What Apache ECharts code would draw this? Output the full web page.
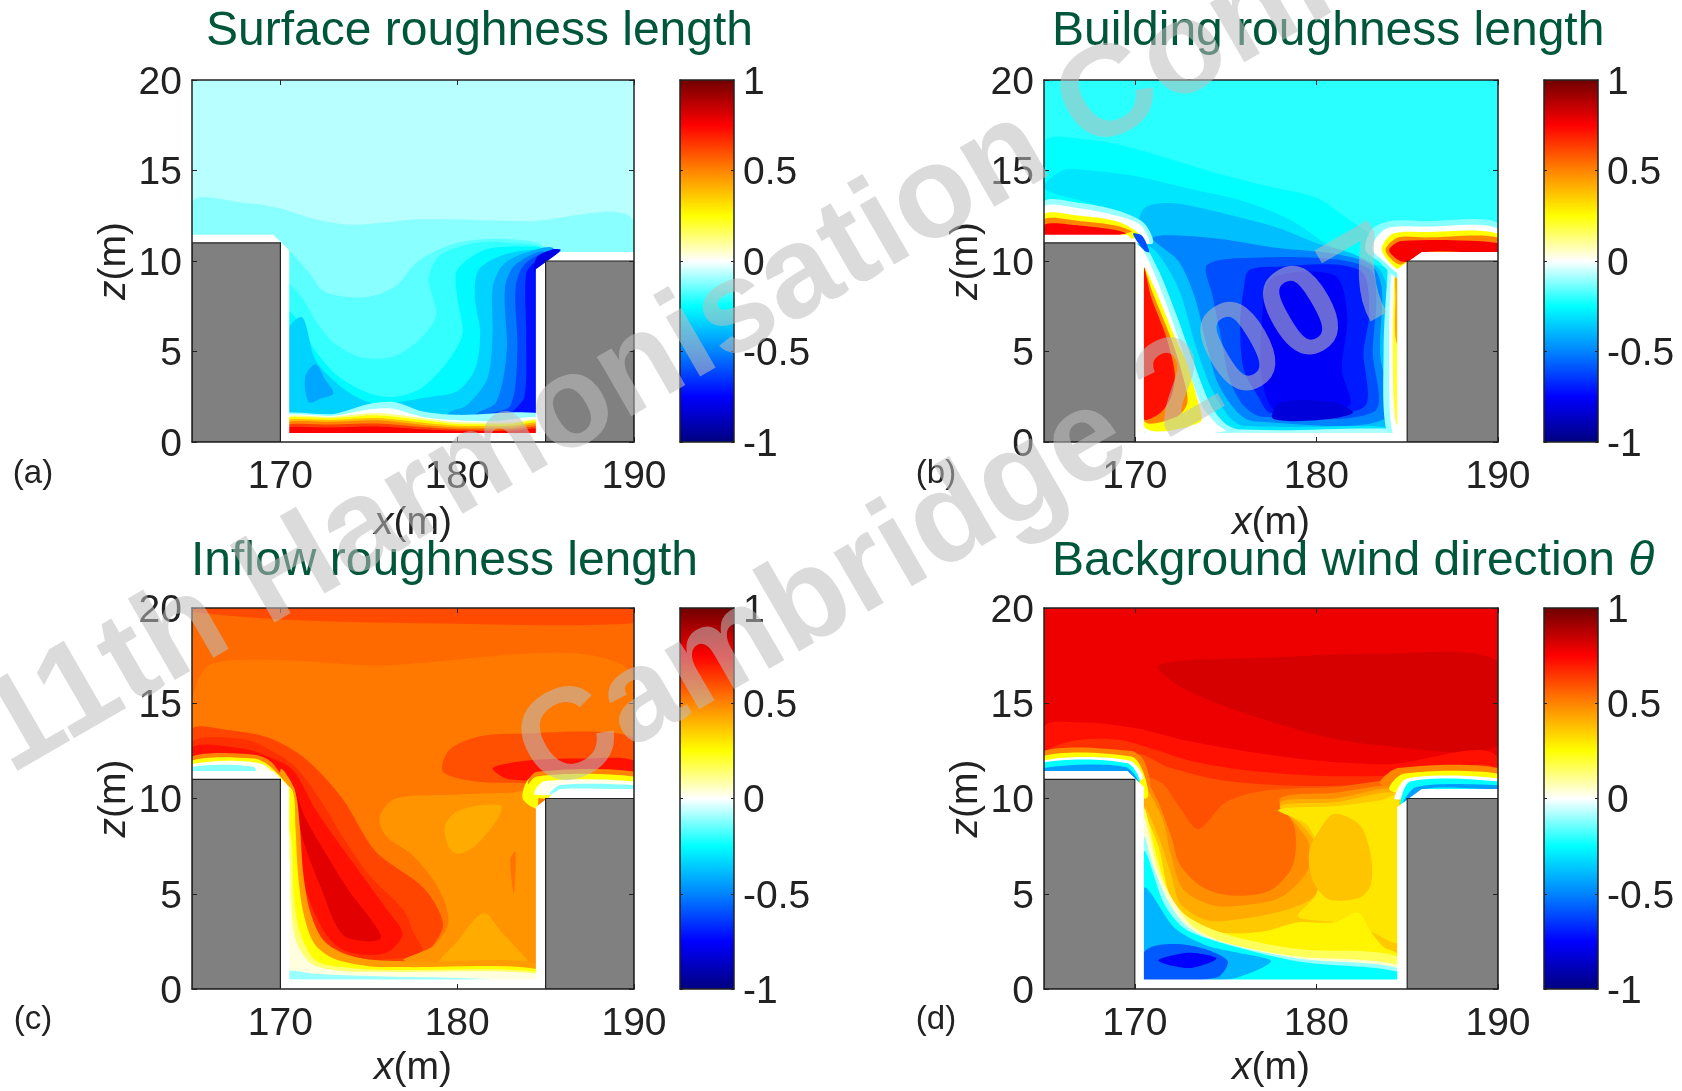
<!DOCTYPE html>
<html><head><meta charset="utf-8">
<style>html,body{margin:0;padding:0;background:#fff}#c{width:1682px;height:1091px}</style>
<script src="https://cdn.jsdelivr.net/npm/echarts@6/dist/echarts.min.js"></script>
</head><body><div id="c"></div>
<script>
const panelTitles=['Surface roughness length','Building roughness length','Inflow roughness length','Background wind direction '];
const panelTags=['(a)','(b)','(c)','(d)'];
const xTicks=[170,180,190];
const zTicks=[0,5,10,15,20];
const colormap=['#000080','#0000ff','#0084ff','#00ffff','#ffffff','#ffff00','#ff8400','#ff0000','#700000'];
const watermark=['11th Harmonisation Conference','Cambridge 2007'];
const domainMask=[[165,11.45],[169.6,11.45],[170.5,10.6],[170.5,0.5],[184.45,0.5],[184.45,9.55],[185.8,10.5],[190,10.5],[190,0],[165,0]];
const leftBuilding=[[165,0],[170,0],[170,11],[165,11]];
const rightBuilding=[[185,0],[190,0],[190,10],[185,10]];

const bandsA=[
[-0.07,[[165,0],[165,20],[190,20],[190,0]]],
[-0.115,[[165,0],[165,13.2],[168,13.2],[170,12.9],[172,12.3],[174,12],[178,12.3],[184,12.2],[190,12.2],[190,0]]],
[-0.16,[[170,10.8],[171.5,9.5],[172.5,8.3],[174.8,8],[176.5,8.6],[177.8,10],[180,11],[183,11.2],[185,10.6],[185,0],[170,0]]],
[-0.2,[[170,9],[171.2,8],[172,6.7],[173,5.5],[174.5,4.7],[176.3,4.7],[177.8,5.6],[178.8,7],[178.4,9],[179,10.3],[181,11],[183,11],[185,10.5],[185,0],[170,0]]],
[-0.26,[[170,7.5],[171,6.7],[172,5],[173.3,3.6],[175,2.7],[176.5,2.5],[178,3],[179.5,4.5],[180.3,6],[180,8],[180,9.5],[181.5,10.6],[183.5,10.8],[185,10.5],[185,0],[170,0]]],
[-0.34,[[170,5.5],[171.2,6.9],[172,4.5],[173.5,3],[175,2.2],[176.5,2.2],[178.5,2.5],[180,2.8],[181,4],[181.3,6],[181,8],[181.2,9.5],[182.5,10.3],[184,10.6],[185,10.4],[185,0],[170,0]]],
[-0.43,[[171.6,2.2],[172.3,2.4],[173,2.7],[172.5,3.5],[172,4.3],[171.4,3.6]]],
[-0.42,[[178.5,0],[179.5,1.6],[180.5,2],[181.7,3.5],[182,6],[182,8.5],[182.6,9.8],[184,10.5],[185.5,10.6],[185.5,0]]],
[-0.52,[[180,0],[181,1.5],[182.2,2.2],[182.8,5],[182.7,8.5],[183.3,9.8],[185,10.4],[185,0]]],
[-0.62,[[181.5,1.5],[183,2],[183.4,5],[183.3,8.5],[183.8,9.8],[185,10.3],[185,1.5]]],
[-0.72,[[183,1.4],[183.8,2.5],[183.9,6],[183.9,9.3],[184.5,10],[185,10],[185,1.4]]],
[-0.8,[[184.4,9.4],[185.85,10.6],[185.4,10.65],[184.5,10.2]]],
[-0.1,[[170,0],[170,1.5],[173,1.55],[175,2.1],[176.5,2.2],[178,1.7],[180,1.5],[185,1.5],[185,0]]],
[0,[[170,0],[170,1.4],[173,1.45],[175,1.8],[176.3,1.85],[178,1.4],[180,1.2],[182,1.15],[185,1.3],[185,0]]],
[0.12,[[170,0],[170,1.33],[173,1.4],[175.5,1.6],[178,1.33],[180,1.1],[183,1.08],[185,1.22],[185,0]]],
[0.25,[[170,0],[170,1.25],[173,1.32],[175.5,1.47],[178,1.22],[180,1],[183,1],[185,1.15],[185,0]]],
[0.38,[[170,0],[170,1.14],[173,1.22],[175.5,1.33],[178,1.08],[180,0.9],[183,0.9],[185,1.05],[185,0]]],
[0.5,[[170,0],[170,1.03],[173,1.12],[175.5,1.2],[178,0.95],[180,0.8],[183,0.8],[185,0.95],[185,0]]],
[0.63,[[170,0],[170,0.9],[173,0.97],[175.5,1.02],[178,0.83],[180,0.71],[183,0.71],[185,0.82],[185,0]]],
[0.75,[[170,0],[170,0.75],[173,0.8],[175.5,0.85],[178,0.7],[180,0.62],[183,0.62],[185,0.7],[185,0]]]
];

const bandsB=[
[-0.21,[[165,0],[165,20],[190,20],[190,0]]],
[-0.25,[[165,0],[165,16.5],[167.5,16.7],[170,16.2],[174,15],[177,14.2],[180,13.5],[181.5,12.5],[183,11.5],[184,11],[190,11],[190,0]]],
[-0.3,[[165,14],[166,15],[167.5,15],[170,14.7],[173,14],[176,13.3],[178.5,12.3],[180.5,11],[182.5,10],[185,9],[185,0],[170,0],[170,11.5],[168,13]]],
[-0.38,[[170.2,11.3],[170.5,12.9],[172,13.2],[175,12.6],[178,11.8],[180,11],[182,10.4],[183.5,9.5],[184,8],[184,5],[184.2,1],[183,0.9],[176,0.9],[175.2,1.4],[174.2,3],[173.3,5.5],[172.4,8.5],[171.2,10.5]]],
[-0.5,[[171,11.3],[174,11.3],[178,10.7],[181,10.4],[183,9.8],[183.6,8.5],[183.5,5],[183.8,1.3],[176.5,1.15],[175.6,1.7],[174.6,3.2],[174,5.2],[173.3,8],[172.4,10]]],
[-0.6,[[174,9.8],[177,10.2],[181,10.1],[183,9.5],[183.3,8],[183.1,5],[183.2,1.7],[177,1.4],[176,2],[175.2,3.5],[174.8,5.5],[174.3,8]]],
[-0.7,[[176.3,9.5],[178,9.7],[181,9.8],[182.6,9.3],[182.9,7],[182.6,5],[182.6,1.9],[177.5,1.6],[176.8,2.5],[176,4],[175.8,6.5],[176,8.5]]],
[-0.76,[[177.5,9],[181,9.2],[181.7,7],[181.4,4],[181.8,2],[177.8,1.7],[177,3.5],[177,6.5]]],
[-0.82,[[177.6,1.3],[180,1.2],[182,1.6],[181,2.2],[178,2.2]]],
[-0.08,[[170,0],[170,0.7],[178,0.65],[183,0.75],[185,0.6],[185,0]]],
[-0.1,[[170.5,0.6],[170.5,10.8],[171.3,9.5],[172.3,7],[173.2,4.5],[174.2,2],[175,1],[175.8,0.6]]],
[0,[[170.5,0.6],[170.5,10.4],[171,9.5],[172,6.9],[172.8,4.5],[173.7,2],[174.5,1],[175,0.6]]],
[0.25,[[170.5,0.9],[170.5,9.6],[171,8.7],[172.2,5.8],[172.8,4.5],[173.4,2.5],[173.6,1.1]]],
[0.5,[[170.5,1.2],[170.5,9.5],[171,8.2],[172,5.7],[172.6,3.8],[172.9,2.2],[172.3,1.4]]],
[0.72,[[170.5,1.3],[170.5,9.6],[170.9,8],[171.7,5.9],[172.2,3.8],[172,2.5],[171.4,1.6]]],
[-0.1,[[183.9,0.5],[183.7,5],[183.9,9],[184.1,10.2],[185,10.2],[185,0.5]]],
[0,[[184.2,0.5],[184,5],[184.1,9],[184.3,10],[185,10],[185,0.5]]],
[0.2,[[184.4,1],[184.2,5],[184.25,8],[184.4,9.6],[185,9.6],[185,1]]],
[0.42,[[184.4,5.5],[184.35,8],[184.4,9.4],[185,9.4],[185,5.5]]],
[-0.1,[[165,11],[165,13.3],[167,13.2],[169,12.8],[170.5,12.1],[171,11],[170,11]]],
[0,[[165,11],[165,13],[167,12.9],[169,12.5],[170.3,12],[170.8,11],[170,11]]],
[0.25,[[165,11],[165,12.6],[167,12.5],[169,12.2],[170,11.7],[170.3,11.3]]],
[0.5,[[165,11],[165,12.3],[167,12.2],[169,11.95],[169.8,11.6]]],
[0.75,[[165,11],[165,12],[167,11.95],[169,11.7],[169.5,11.5]]],
[-0.6,[[169.9,11.5],[170.4,11.4],[170.8,10.5],[170.5,10.6]]],
[-0.12,[[182.7,10.6],[183,11.7],[184,12.2],[186,12.2],[190,12.1],[190,10],[185,10],[184.6,9],[183.4,10]]],
[0,[[183.1,10.6],[183.3,11.3],[184,11.85],[186,11.9],[190,11.8],[190,10],[185,10],[184.6,9.3],[183.7,10]]],
[0.25,[[183.6,10.6],[184.2,11.5],[186,11.6],[190,11.5],[190,10],[185.5,10],[184.6,9.5]]],
[0.5,[[183.8,10.6],[184.5,11.3],[186,11.3],[190,11.3],[190,10.3],[185.5,10.3],[184.6,9.8]]],
[0.76,[[184,10.6],[184.7,11.1],[190,11],[190,10.5],[186,10.5],[185.2,10],[184.6,10]]]
];

const bandsC=[
[0.55,[[165,0],[165,20],[190,20],[190,0]]],
[0.61,[[165,20],[165,19.8],[170,19.4],[178,19.2],[190,19.2],[190,20]]],
[0.52,[[165,15],[166.2,17.1],[175,17],[190,16.5],[190,0],[165,0]]],
[0.6,[[179.2,11.4],[179.5,12.5],[181,13.2],[183,13.4],[190,13.2],[190,10.8],[184,10.8],[181,10.9]]],
[0.72,[[182,11.6],[184,12],[187,12.1],[190,12],[190,11],[183,11]]],
[0.62,[[165,13.65],[167,13.6],[169.3,13.2],[171.4,12.1],[173.5,10],[175.4,7.2],[178.1,5.3],[179.2,3.4],[178.4,1.9],[178,1],[170,1],[170,11],[165,11]]],
[0.66,[[165,11],[165,13],[168,13.1],[169.7,12.4],[170.9,11.6],[172.2,10],[173.5,8],[175,6],[177,4.1],[177.5,3],[178,1.9],[175.4,1.5],[172,1.2],[170.5,3],[170.5,10]]],
[0.72,[[165,11],[165,12.7],[168,12.6],[169.3,12.2],[170.7,11.5],[172,9.4],[173.5,7.4],[176,4.2],[176.9,2.9],[176,1.9],[174,1.9],[172.8,2.6],[171.7,4.5],[171,7],[170.6,10.5],[170,11.4]]],
[0.8,[[170.8,10.5],[171.2,8.1],[172.3,5.3],[173.5,2.86],[175,2.5],[175.7,2.7],[175,3.8],[174,5],[172.9,6.6],[171.4,9]]],
[0.8,[[166,12.2],[168,12.3],[169,11.9],[166,11.9]]],
[0.47,[[175.6,9],[176.5,10],[180,10.2],[183,10.3],[184.5,10.3],[184.5,1.3],[177,1.5],[178.7,2.3],[179.5,3.5],[179,5.2],[177.5,7],[176,8]]],
[0.42,[[179.3,8.5],[179.8,9.2],[181,9.6],[182.5,9.6],[182.2,8.8],[181,7.5],[180,7.1],[179.5,7.5]]],
[0.42,[[179,1.3],[180,2.5],[181.5,4],[182.5,3],[183.3,2.2],[184,1.3]]],
[0.53,[[183,6.8],[183.2,5],[183.3,7.2]]],
[0.45,[[170,11.5],[170.8,10.5],[171.1,8.5],[171.3,6],[171.7,4],[172.4,2.6],[173.5,1.9],[175,1.55],[178,1.45],[184.5,1.35],[184.5,0],[170,0]]],
[0.25,[[170,10.8],[170.7,10.4],[170.85,8.5],[171,6],[171.3,4],[171.9,2.4],[173,1.6],[175,1.2],[177,1.15],[184.5,1.05],[184.5,0],[170,0]]],
[0.14,[[170,9.5],[170.6,8],[170.75,5],[171.1,3],[172,1.5],[174,1.1],[176,1],[184.5,0.9],[184.5,0],[170,0]]],
[0.03,[[170,8.5],[170.5,7],[170.6,4.5],[170.9,2.5],[171.8,1.3],[173.5,0.95],[176,0.9],[184.5,0.8],[184.5,0],[170,0]]],
[-0.1,[[170.5,0.5],[170.5,0.95],[172,0.8],[176,0.65],[180,0.58],[182,0.5]]],
[0.25,[[183.7,10],[184,11],[184.5,11],[184.5,9.5]]],
[0.5,[[165,11],[165,12.2],[168.5,12.3],[169.5,11.9],[170.5,10.5],[170,11]]],
[0.25,[[165,11],[165,12],[168.5,12.1],[169.4,11.7],[170.4,10.5]]],
[0.02,[[165,11],[165,11.8],[169,11.8],[170.2,10.5],[170,11]]],
[-0.12,[[165,11],[165,11.65],[168.5,11.65],[168.5,11]]],
[0.5,[[184,10.8],[184.5,11.4],[190,11.4],[190,10.5],[185,10.5]]],
[0.25,[[183.9,10.3],[184.5,11.15],[190,11.15],[190,10.5],[186,10.5],[185,10]]],
[0.02,[[184.4,10.2],[184.9,10.9],[190,10.9],[190,10.5]]],
[-0.12,[[185.2,10.2],[185.8,10.7],[190,10.7],[190,10.5],[186,10.5]]]
];

const bandsD=[
[0.78,[[165,0],[165,20],[190,20],[190,0]]],
[0.82,[[171.3,17],[177.5,17.4],[183.4,17.6],[190,17.2],[190,12.8],[183.4,12.8],[179,13.6],[173,15.6]]],
[0.72,[[165,13.7],[167,14],[170,13.7],[173,13],[176,12.5],[180,12],[184,11.8],[190,12.1],[190,0],[165,0]]],
[0.66,[[165,12.2],[166.5,13],[169,13.1],[171,12.6],[173,12],[176,11.5],[180,11.2],[184,11.2],[186,11.4],[190,11.4],[190,0],[165,0]]],
[0.6,[[170,12.2],[172,11.6],[174.5,11],[178,10.7],[182,10.7],[184,11],[185,11],[185,0],[170,0]]],
[0.55,[[170.5,11],[171.5,10.8],[172.5,9.5],[173.5,8.4],[175,9.8],[177,10.4],[181,10.6],[184.5,10.9],[185,10],[185,0],[170,0]]],
[0.48,[[170.5,11],[171.2,10],[172,8],[172.5,6.5],[173.8,5.3],[175.5,4.9],[177.5,5.2],[178.7,6.5],[178.8,8.5],[178,10],[181,10.3],[184.5,10.7],[185,10],[185,0],[170,0]]],
[0.42,[[170.5,10.5],[171.5,9],[172,7],[172.7,5.2],[174.3,4.4],[176,4.4],[178,4.8],[179.5,6.2],[179.6,7.6],[179,8.5],[178,9.8],[181,10],[184.5,10.5],[185,9],[185,0],[170,0]]],
[0.36,[[170.5,9.5],[171.3,8],[172,6],[172.5,4.5],[174,3.6],[176,3.7],[178.5,4.2],[180,5],[180.3,7],[179.3,8.5],[178,9.6],[181,9.8],[184.5,10.3],[185,9],[185,0],[170,0]]],
[0.3,[[177.9,9.4],[179.5,8.6],[180.2,7],[180,5],[179,3.8],[181,3.5],[183,3],[184.5,2.5],[184.5,10.1],[183.5,9.9],[181,9.6]]],
[0.27,[[170.5,9],[171.3,7.5],[171.8,5.3],[172.4,3.9],[174.5,3],[177,3],[179,3.5],[181,3.5],[182.3,4],[183,3],[183.7,2.2],[184.5,1.8],[185,0],[170,0]]],
[0.37,[[181,9.2],[182.4,8.6],[183,7],[183,5.5],[182.4,4.8],[180.7,4.7],[179.8,5.7],[179.6,7.2],[180.2,8.4]]],
[0.16,[[170.5,9.4],[171.2,7],[171.9,5],[172.9,3.8],[175.1,2.85],[179,2.1],[184.5,1.7],[185,0],[170,0]]],
[0.05,[[170.5,8.9],[171.3,6.2],[172.2,4.5],[173.3,3.2],[175.1,2.4],[179,1.7],[184.5,1.25],[185,0],[170,0]]],
[-0.1,[[170.5,8],[171,6.5],[171.9,4.5],[173,3.2],[174.8,2.45],[179,1.6],[184.5,1.1],[185,0],[170,0]]],
[-0.25,[[170.5,7.2],[171.6,4.5],[172.7,3.2],[174.5,2.5],[179,1.45],[184.5,0.9],[184.5,0],[170,0]]],
[-0.4,[[170.5,5.3],[172.2,3.2],[173.9,2.3],[175.7,1.9],[177.5,1.45],[175.1,0.5],[170,0.5]]],
[-0.58,[[170.7,2.1],[173,2.3],[175.1,1.5],[174.5,0.6],[170,0.5]]],
[-0.75,[[171.3,1.5],[173,1.9],[174.5,1.6],[173,1.1]]],
[0.5,[[165,11],[165,12.5],[169.8,12.5],[170.5,12],[170.7,10.5]]],
[0.25,[[165,11],[165,12.25],[169.8,12.2],[170.5,11.3],[170.6,10]]],
[0,[[165,11],[165,12],[169.7,12],[170.4,11]]],
[-0.25,[[165,11],[165,11.9],[169.6,11.85],[170.2,10.8]]],
[-0.45,[[165,11],[165,11.6],[169.5,11.65],[170.2,10.6]]],
[0.5,[[183.5,10.8],[184.5,11.6],[190,11.6],[190,10.5],[185,10.5]]],
[0.25,[[184,10.5],[184.8,11.3],[190,11.3],[190,10.5],[185,10.2]]],
[0,[[184.3,10],[185,11.05],[190,11.05],[190,10.5],[185,10]]],
[-0.25,[[184.6,9.7],[185.2,10.9],[190,10.9],[190,10.5],[185,9.8]]],
[-0.45,[[184.7,9.6],[185.5,10.6],[190,10.7],[190,10.5],[186,10.5]]]
];

const panelBands=[bandsA,bandsB,bandsC,bandsD];
const FONT='"Liberation Sans",Arial,sans-serif';
const INK='#222';
const plots=[{l:192,t:80,w:442,h:362,cl:680},{l:1044,t:80,w:454,h:362,cl:1544},{l:192,t:608,w:442,h:381,cl:680},{l:1044,t:608,w:454,h:381,cl:1544}];
const tagPos=[[33,474],[936,474],[33,1020],[936,1020]];
const titlePos=[[206,8],[1052,8],[191,538],[1052,538]];
const lbl={fontFamily:FONT,fontSize:39,color:INK};
const grids=[],xAxes=[],yAxes=[],series=[],titles=[];
const line={show:true,onZero:false,lineStyle:{color:INK,width:1.5}};
const tick=(vals)=>({show:true,inside:true,length:5,customValues:vals,lineStyle:{color:INK}});
function addAxisPair(gi,xo,yo){
  xAxes.push(Object.assign({gridIndex:gi,type:'value',position:'bottom',z:6,splitLine:{show:false},axisLine:line},xo));
  xAxes.push(Object.assign({gridIndex:gi,type:'value',position:'top',z:6,splitLine:{show:false},axisLine:line,axisLabel:{show:false}},xo,{name:'',axisLabel:{show:false}}));
  yAxes.push(Object.assign({gridIndex:gi,type:'value',position:yo.position||'left',z:6,splitLine:{show:false},axisLine:line},yo));
  yAxes.push(Object.assign({gridIndex:gi,type:'value',z:6,splitLine:{show:false},axisLine:line},yo,{position:yo.position==='right'?'left':'right',name:'',axisLabel:{show:false}}));
}
const bandRenderer=(bands)=>(params,api)=>{
  const b=bands[api.value(1)];
  return {type:'polygon',shape:{points:b[1].map(p=>api.coord(p)),smooth:0.3},style:{fill:api.visual('color')}};
};
const polys=[domainMask,leftBuilding,rightBuilding];
const bandSeriesIdx=[];
plots.forEach((p,i)=>{
  const gi=grids.length;
  grids.push({left:p.l,top:p.t,width:p.w,height:p.h,containLabel:false});
  const ai=xAxes.length;
  addAxisPair(gi,{min:165,max:190,
    axisTick:tick(xTicks),
    axisLabel:{show:true,customValues:xTicks,margin:16,...lbl},
    name:'{i|x}(m)',nameLocation:'middle',nameGap:i<2?62:60,
    nameTextStyle:{...lbl,rich:{i:{...lbl,fontStyle:'italic'}}}
  },{min:0,max:20,interval:5,
    axisTick:{show:true,inside:true,length:5,lineStyle:{color:INK}},
    axisLabel:{show:true,margin:10,verticalAlign:'top',lineHeight:6,...lbl},
    name:'{i|z}(m)',nameLocation:'middle',nameGap:58,
    nameTextStyle:{...lbl,rich:{i:{...lbl,fontStyle:'italic'}}}
  });
  bandSeriesIdx.push(series.length);
  const bands=panelBands[i];
  series.push({type:'custom',coordinateSystem:'cartesian2d',xAxisIndex:ai,yAxisIndex:ai,z:2,clip:true,silent:true,
    renderItem:bandRenderer(bands),encode:{x:[],y:[]},
    data:bands.map((b,k)=>[b[0],k])});
  series.push({type:'custom',coordinateSystem:'cartesian2d',xAxisIndex:ai,yAxisIndex:ai,z:3,clip:true,silent:true,
    renderItem:(params,api)=>{
      const k=api.value(0);
      return {type:'polygon',shape:{points:polys[k].map(q=>api.coord(q))},
        style:k===0?{fill:'#fff'}:{fill:'#808080',stroke:'#222',lineWidth:1.2}};
    },encode:{x:[],y:[]},data:[[0],[1],[2]]});
  const cg=grids.length;
  grids.push({left:p.cl,top:p.t,width:54,height:p.h});
  const ci=xAxes.length;
  addAxisPair(cg,{min:0,max:1,axisTick:{show:false},axisLabel:{show:false}},
   {min:-1,max:1,interval:0.5,position:'right',
    axisTick:{show:true,inside:true,length:3,lineStyle:{color:INK}},
    axisLabel:{show:true,margin:9,verticalAlign:'top',lineHeight:6,...lbl}});
  series.push({type:'custom',coordinateSystem:'cartesian2d',xAxisIndex:ci,yAxisIndex:ci,z:2,silent:true,
    renderItem:(params,api)=>{
      const a=api.coord([0,-1]),b=api.coord([1,1]);
      return {type:'rect',shape:{x:a[0],y:b[1],width:b[0]-a[0],height:a[1]-b[1]},
        style:{fill:new echarts.graphic.LinearGradient(0,1,0,0,colormap.map((c,j)=>({offset:j/(colormap.length-1),color:c})))}};
    },encode:{x:[],y:[]},data:[[0]]});
  const isTheta=i===3;
  titles.push({left:titlePos[i][0],top:titlePos[i][1],padding:0,
    text:isTheta?panelTitles[i]+'{t|θ}':panelTitles[i],
    textStyle:{fontFamily:FONT,fontWeight:'normal',fontSize:48,color:'#00563a',
      rich:{t:{fontFamily:FONT,fontStyle:'italic',fontSize:48,color:'#00563a'}}}});
});
const graphics=panelTags.map((t,i)=>({type:'text',z:50,x:tagPos[i][0],y:tagPos[i][1],
  style:{text:t,font:'33px '+FONT,fill:INK,textAlign:'center',textVerticalAlign:'middle'}}));
const wmStyle={font:'bold 130px '+FONT,fill:'rgba(190,190,190,0.55)',textAlign:'left',textVerticalAlign:'bottom'};
graphics.push({type:'text',z:100,silent:true,x:25,y:800,rotation:30*Math.PI/180,style:{...wmStyle,text:watermark[0]}});
graphics.push({type:'text',z:100,silent:true,x:562,y:822,rotation:30*Math.PI/180,style:{...wmStyle,text:watermark[1]}});

const chart=echarts.init(document.getElementById('c'),null,{renderer:'canvas'});
chart.setOption({animation:false,backgroundColor:'#fff',title:titles,grid:grids,xAxis:xAxes,yAxis:yAxes,
  visualMap:{show:false,type:'continuous',min:-1,max:1,dimension:0,seriesIndex:bandSeriesIdx,inRange:{color:colormap}},
  series:series,graphic:graphics});
</script></body></html>
